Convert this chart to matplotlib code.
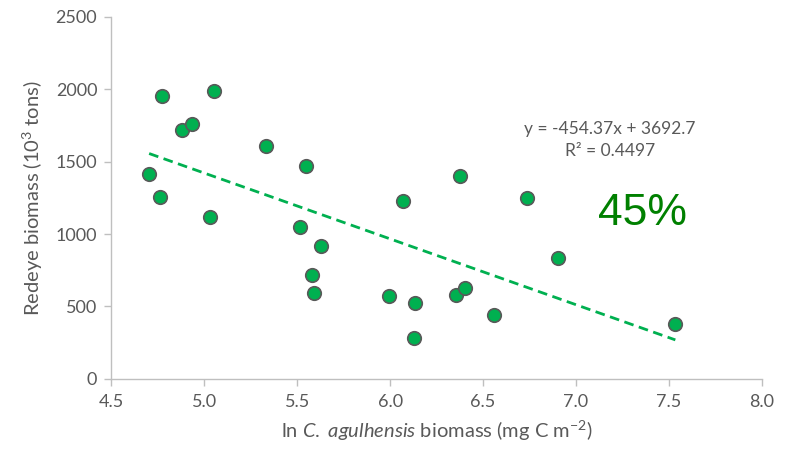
import matplotlib
matplotlib.use("Agg")
import matplotlib.pyplot as plt

# ln C. agulhensis biomass vs redeye biomass
ln_agulhensis = [4.704, 4.762, 4.773, 4.883, 4.934, 5.029, 5.055, 5.333, 5.518, 5.550,
                 5.582, 5.588, 5.629, 5.993, 6.068, 6.127, 6.134, 6.357, 6.375, 6.405,
                 6.561, 6.735, 6.903, 7.534]
redeye = [1417, 1256, 1955, 1716, 1760, 1118, 1986, 1610, 1049, 1470,
          718, 596, 920, 573, 1226, 281, 522, 578, 1399, 628,
          442, 1247, 835, 382]

slope = -454.37
intercept = 3692.7
r_squared = 0.4497
pct_label = "45%"

x_ticks = [4.5, 5.0, 5.5, 6.0, 6.5, 7.0, 7.5, 8.0]
y_ticks = [0, 500, 1000, 1500, 2000, 2500]

plt.rcParams['font.family'] = ['Lato', 'DejaVu Sans']
plt.rcParams['mathtext.fontset'] = 'custom'
plt.rcParams['mathtext.rm'] = 'Lato'
plt.rcParams['mathtext.it'] = 'Lato:italic'

grey = '#595959'
axis_grey = '#bfbfbf'

fig = plt.figure(figsize=(8, 4.49), dpi=100)
ax = fig.add_axes([0.139, 0.156, 0.8135, 0.807])

# trend line from the stated equation
x0, x1 = min(ln_agulhensis), max(ln_agulhensis)
ax.plot([x0, x1], [slope * x0 + intercept, slope * x1 + intercept],
        color='#00b050', lw=2.0, dashes=(3.5, 2.0), zorder=2)

ax.scatter(ln_agulhensis, redeye, s=95, color='#00b050', edgecolor=grey,
           linewidth=1.2, zorder=3)

ax.set_xlim(4.5, 8.0)
ax.set_ylim(0, 2500)
ax.set_xticks(x_ticks)
ax.set_xticklabels([f"{v:.1f}" for v in x_ticks])
ax.set_yticks(y_ticks)

for side in ('top', 'right'):
    ax.spines[side].set_visible(False)
for side in ('left', 'bottom'):
    ax.spines[side].set_color(axis_grey)
    ax.spines[side].set_linewidth(1.0)

ax.tick_params(axis='both', colors=axis_grey, labelcolor=grey, labelsize=13,
               length=5, width=1.0, direction='out')
ax.tick_params(axis='x', pad=6)
ax.tick_params(axis='y', pad=5)

ax.set_xlabel(r'ln $\it{C.\ agulhensis}$ biomass (mg C m$^{\mathregular{-2}}$)', color=grey,
              fontsize=14.5, labelpad=6)
ax.set_ylabel(r'Redeye biomass (10$^{3}$ tons)', color=grey, fontsize=14.5, labelpad=8)

ax.text(0.7625, 0.689, f"y = {slope}x + {intercept}\nR² = {r_squared}",
        transform=fig.transFigure, ha='center', va='center', color=grey,
        fontsize=12.5, linespacing=1.45)
ax.text(0.803, 0.525, pct_label, transform=fig.transFigure, ha='center',
        va='center', color='#008000', fontsize=32,
        family=['Liberation Sans', 'DejaVu Sans'])

fig.savefig('out.png', dpi=100)
